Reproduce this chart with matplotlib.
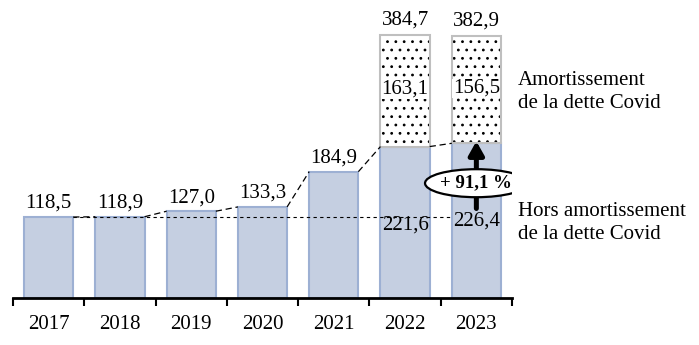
import matplotlib.pyplot as plt
from matplotlib.patches import Ellipse
import numpy as np

# --- DATA ---
years = ["2017", "2018", "2019", "2020", "2021", "2022", "2023"]
hors_covid = [118.5, 118.9, 127.0, 133.3, 184.9, 221.6, 226.4]
covid = [0, 0, 0, 0, 0, 163.1, 156.5]
totals = [None, None, None, None, None, 384.7, 382.9]
hausse_label = "+ 91,1 %"

BLUE = "#C5CFE1"
BLUE_EDGE = "#9DB0D3"
GREY_EDGE = "#BFBFBF"

plt.rcParams['font.family'] = ['Liberation Serif', 'DejaVu Serif']
plt.rcParams['hatch.linewidth'] = 0.8
FS = 15

def fr(v):
    return f"{v:.1f}".replace(".", ",")

fig = plt.figure(figsize=(6.99, 3.45), dpi=100)
ax = fig.add_axes([13 / 699, 47 / 345, 499 / 699, 287 / 345])

x = np.arange(len(years))
w = 0.69

# base bars
ax.bar(x, hors_covid, width=w, color=BLUE, edgecolor=BLUE_EDGE, linewidth=1.5, zorder=2)

# covid amortisation: dotted hatch then grey outline
top_idx = [i for i, v in enumerate(covid) if v > 0]
for i in top_idx:
    ax.bar(x[i], covid[i], bottom=hors_covid[i], width=w, color="white",
           edgecolor="black", linewidth=0, hatch="..", zorder=2)
    ax.bar(x[i], covid[i], bottom=hors_covid[i], width=w, fill=False,
           edgecolor=GREY_EDGE, linewidth=1.5, zorder=3)

# connectors between bar tops
for i in range(len(years) - 1):
    ax.plot([x[i] + w / 2, x[i + 1] - w / 2], [hors_covid[i], hors_covid[i + 1]],
            color="black", linestyle=(0, (5, 3)), linewidth=0.9, zorder=4)

# reference line at 2017 level
ax.plot([x[0] + w / 2, x[6] - w / 2], [hors_covid[0], hors_covid[0]],
        color="black", linestyle=(0, (3, 3)), linewidth=0.8, zorder=4)

# value labels
inner_y = {5: 107, 6: 113}
for i in range(len(years)):
    if covid[i] > 0:
        ax.text(x[i], inner_y[i], fr(hors_covid[i]), ha="center", va="center",
                fontsize=FS, zorder=6)
        ax.text(x[i], hors_covid[i] + covid[i] / 2 + 2, fr(covid[i]), ha="center",
                va="center", fontsize=FS, zorder=6,
                bbox=dict(facecolor="white", edgecolor="none", pad=0.3))
        ax.text(x[i], totals[i] + 8, fr(totals[i]), ha="center", va="bottom",
                fontsize=FS, zorder=6)
    else:
        ax.text(x[i], hors_covid[i] + 6, fr(hors_covid[i]), ha="center", va="bottom",
                fontsize=FS, zorder=6)

# growth arrow + ellipse on 2023
ax.annotate("", xy=(x[6], hors_covid[6] + 3), xytext=(x[6], 131),
            arrowprops=dict(arrowstyle="-|>,head_length=0.8,head_width=0.45",
                            color="black", lw=3.6, shrinkA=0, shrinkB=0), zorder=7)
ell_y = 168
ax.add_patch(Ellipse((x[6], ell_y), 1.44, 41, facecolor="white", edgecolor="black",
                     linewidth=1.6, zorder=8))
ax.text(x[6], ell_y, hausse_label, ha="center", va="center", fontsize=13.5,
        fontweight="bold", zorder=9)

# legend texts on the right
ax.text(6.58, 302, "Amortissement\nde la dette Covid", ha="left", va="center",
        fontsize=FS, linespacing=1.28, clip_on=False)
ax.text(6.58, 110, "Hors amortissement\nde la dette Covid", ha="left", va="center",
        fontsize=FS, linespacing=1.25, clip_on=False)

# axes styling
ax.set_xlim(-0.5, 6.5)
ax.set_ylim(0, 420)
for s in ["top", "right", "left"]:
    ax.spines[s].set_visible(False)
ax.spines["bottom"].set_linewidth(2)
ax.set_yticks([])
ax.set_xticks(np.arange(-0.5, 7.0, 1.0))
ax.set_xticklabels([])
ax.tick_params(axis="x", which="major", direction="out", length=6, width=1.5)
ax.set_xticks(x, minor=True)
ax.set_xticklabels(years, minor=True, fontsize=FS)
ax.tick_params(axis="x", which="minor", length=0, pad=12)

fig.savefig("out.png", dpi=100)
